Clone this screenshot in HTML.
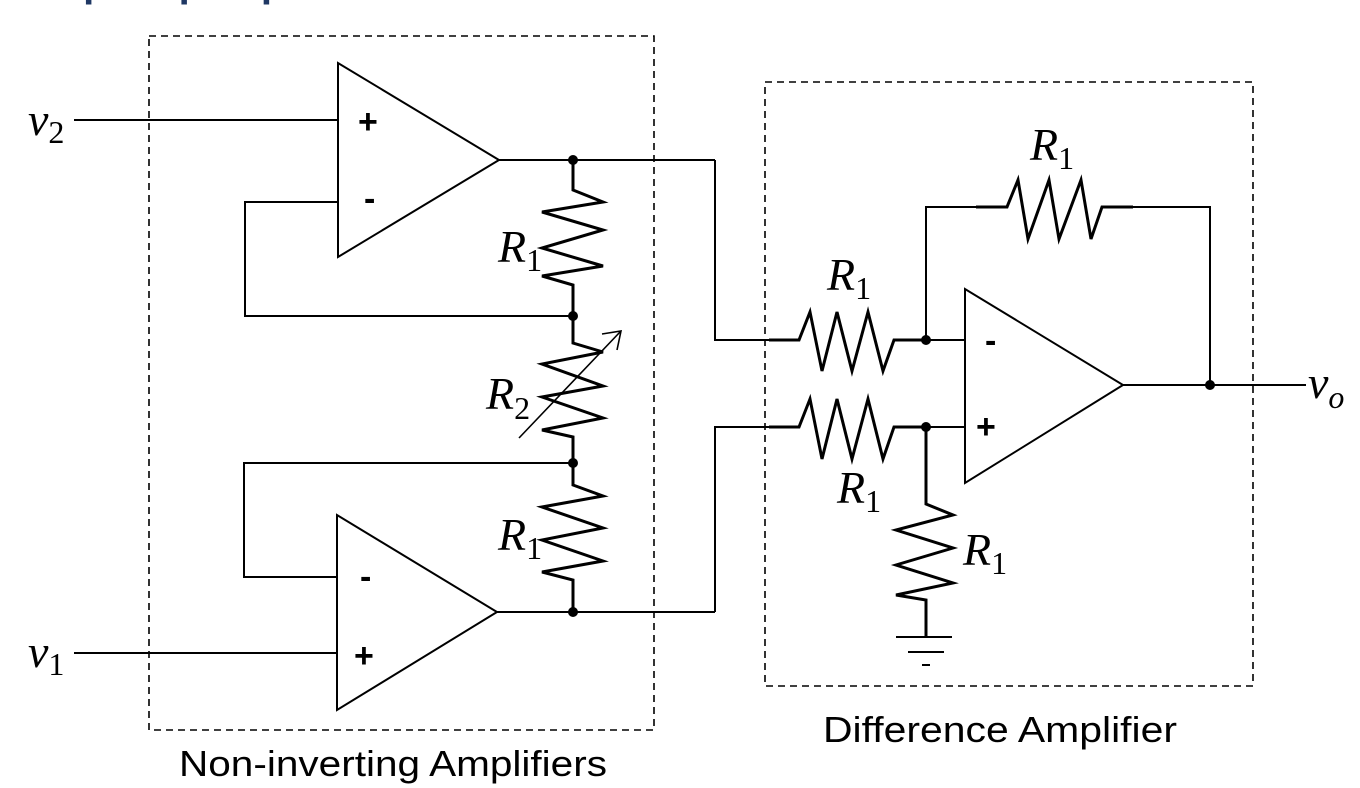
<!DOCTYPE html>
<html><head><meta charset="utf-8"><style>
html,body{margin:0;padding:0;background:#fff;}
svg{display:block;}
.w{fill:none;stroke:#000;stroke-width:2;}
.r{fill:none;stroke:#000;stroke-width:3;stroke-linejoin:miter;}
.d{fill:none;stroke:#000;stroke-width:1.6;stroke-dasharray:7,5;}
.lab{font-family:"Liberation Serif",serif;font-style:italic;font-size:46px;}
.sub{font-family:"Liberation Serif",serif;font-style:normal;font-size:32px;}
.sgn{font-family:"Liberation Sans",sans-serif;font-weight:bold;font-size:34px;}
.cap{font-family:"Liberation Sans",sans-serif;font-size:36px;}
</style></head><body>
<svg width="1360" height="788" viewBox="0 0 1360 788" xmlns="http://www.w3.org/2000/svg">
<text x="52" y="-4" font-family="Liberation Sans,sans-serif" font-weight="bold" font-size="40" fill="#1f3864">Op-amp Implementation</text>
<!-- dashed boxes -->
<rect class="d" x="149" y="36" width="505" height="694"/>
<rect class="d" x="765" y="82" width="488" height="604"/>
<!-- opamp 1 -->
<polygon class="w" points="338,63 338,257 499,160"/>
<text class="sgn" x="358" y="133">+</text>
<text class="sgn" x="364" y="210">-</text>
<line class="w" x1="74" y1="120" x2="338" y2="120"/>
<polyline class="w" points="338,202 245,202 245,316 573,316"/>
<line class="w" x1="499" y1="160" x2="715" y2="160"/>
<polyline class="w" points="715,160 715,340 769,340"/>
<!-- opamp 2 -->
<polygon class="w" points="337,515 337,710 497,612"/>
<text class="sgn" x="360" y="588">-</text>
<text class="sgn" x="354" y="667">+</text>
<line class="w" x1="74" y1="653" x2="337" y2="653"/>
<polyline class="w" points="337,577 244,577 244,463 573,463"/>
<line class="w" x1="497" y1="612" x2="715" y2="612"/>
<polyline class="w" points="715,612 715,427 769,427"/>
<!-- vertical resistor chain -->
<polyline class="r" points="573,160 573,190 603,202 542,212 603,230 542,248 603,266 542,276 573,285 573,316"/>
<polyline class="r" points="573,316 573,343 603,352 542,364 603,386 542,397 603,418 542,430 573,437 573,463"/>
<polyline class="r" points="573,463 573,485 603,496 542,507 603,528 542,540 603,561 542,572 573,580 573,612"/>
<line x1="519" y1="438" x2="620" y2="332" stroke="#000" stroke-width="1.6"/>
<polyline points="602,334 621,331 617,350" fill="none" stroke="#000" stroke-width="1.6"/>
<circle cx="573" cy="160" r="5"/><circle cx="573" cy="316" r="5"/><circle cx="573" cy="463" r="5"/><circle cx="573" cy="612" r="5"/>
<!-- difference amp -->
<polygon class="w" points="965,289 965,483 1123,385"/>
<text class="sgn" x="985" y="352">-</text>
<text class="sgn" x="976" y="438">+</text>
<polyline class="r" points="769,340 799,340 810,312 822,371 837,312 852,371 868,312 883,371 894,340 926,340"/>
<line class="w" x1="926" y1="340" x2="965" y2="340"/>
<polyline class="r" points="769,427 799,427 810,399 822,459 837,399 852,459 868,399 883,459 894,427 926,427"/>
<line class="w" x1="926" y1="427" x2="965" y2="427"/>
<polyline class="w" points="926,340 926,207 976,207"/>
<polyline class="r" points="976,207 1007,207 1018,180 1028,239 1049,180 1059,239 1081,180 1091,239 1102,207 1133,207"/>
<polyline class="w" points="1133,207 1210,207 1210,385"/>
<line class="w" x1="1123" y1="385" x2="1306" y2="385"/>
<polyline class="r" points="926,427 926,504 953,515 896,530 953,548 896,565 953,583 896,595 926,600 926,637"/>
<line class="w" x1="896" y1="637" x2="952" y2="637"/>
<line class="w" x1="908" y1="652" x2="944" y2="652"/>
<line class="w" x1="922" y1="665" x2="930" y2="665"/>
<circle cx="926" cy="340" r="5"/><circle cx="926" cy="427" r="5"/><circle cx="1210" cy="385" r="5"/>
<!-- labels -->
<text class="lab" x="28" y="135">v<tspan class="sub" dy="8">2</tspan></text>
<text class="lab" x="28" y="667">v<tspan class="sub" dy="8">1</tspan></text>
<text class="lab" x="1308" y="398">v<tspan class="sub" dy="10" style="font-style:italic">o</tspan></text>
<text class="lab" x="498" y="262">R<tspan class="sub" dy="9">1</tspan></text>
<text class="lab" x="486" y="409">R<tspan class="sub" dy="10">2</tspan></text>
<text class="lab" x="498" y="550">R<tspan class="sub" dy="9">1</tspan></text>
<text class="lab" x="1030" y="160">R<tspan class="sub" dy="9">1</tspan></text>
<text class="lab" x="827" y="290">R<tspan class="sub" dy="9">1</tspan></text>
<text class="lab" x="837" y="503">R<tspan class="sub" dy="9">1</tspan></text>
<text class="lab" x="963" y="565">R<tspan class="sub" dy="9">1</tspan></text>
<text class="cap" x="179" y="776" textLength="428" lengthAdjust="spacingAndGlyphs">Non-inverting Amplifiers</text>
<text class="cap" x="823" y="742" textLength="354" lengthAdjust="spacingAndGlyphs">Difference Amplifier</text>
</svg>
</body></html>
